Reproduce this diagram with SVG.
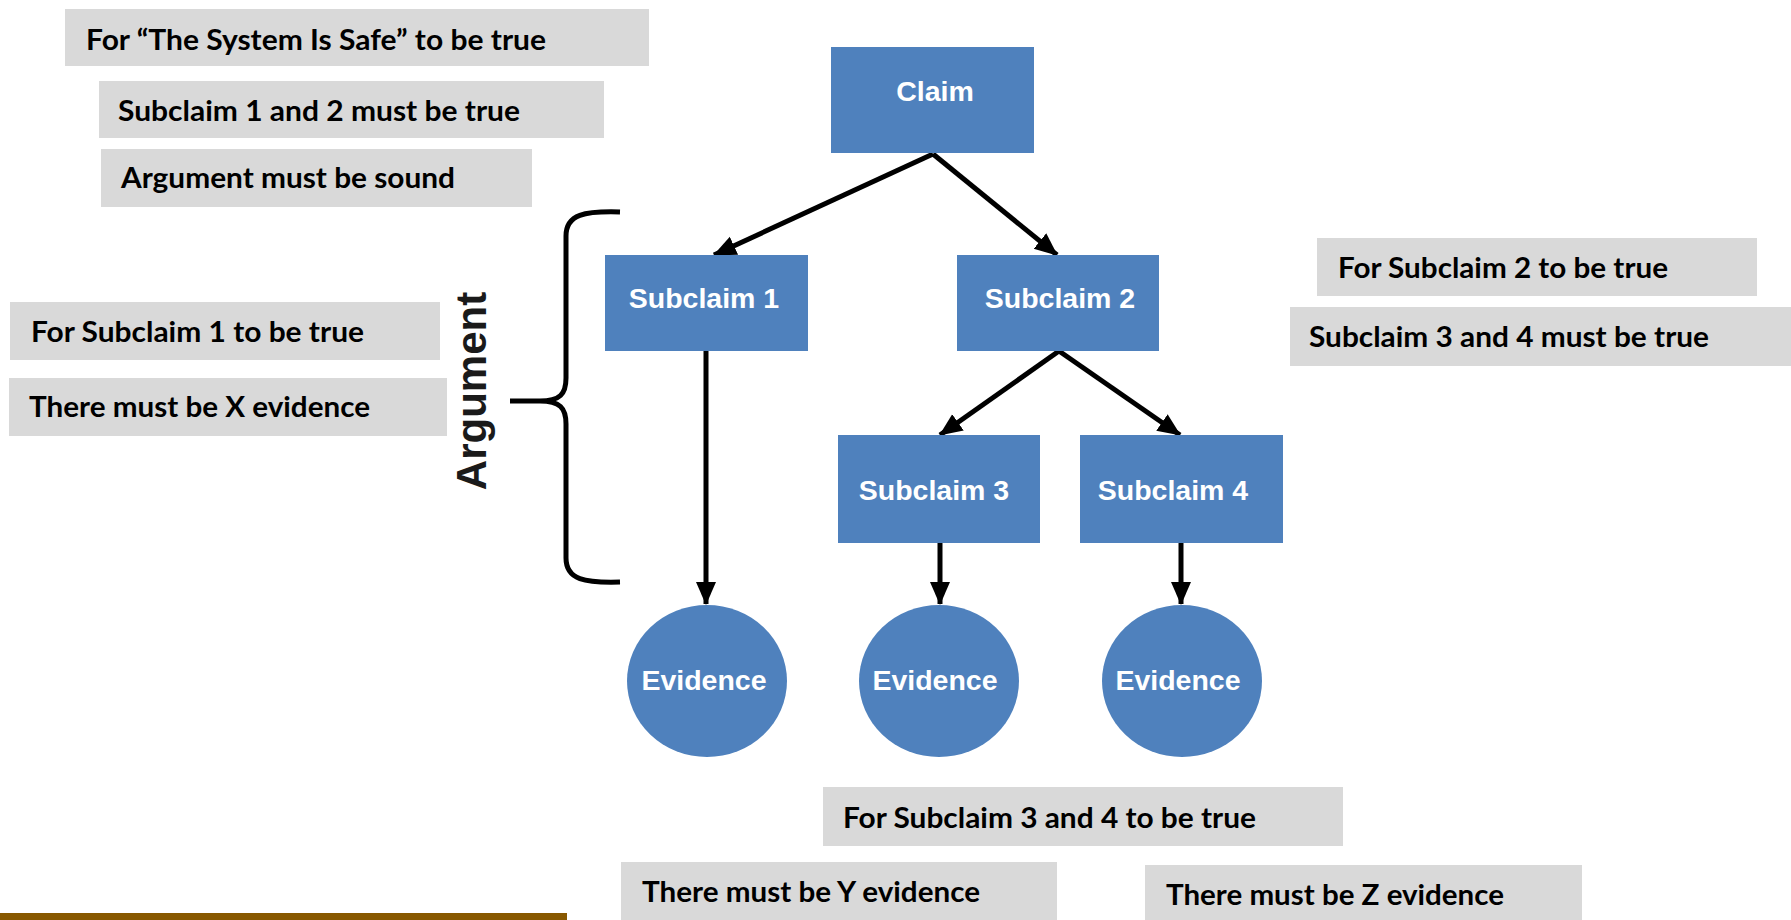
<svg xmlns="http://www.w3.org/2000/svg" width="1791" height="920" viewBox="0 0 1791 920">
  <style>
    .note rect { fill: #D9D9D9; }
    .note text { font-family: Lato, "Open Sans", "Liberation Sans", sans-serif; font-weight: bold; font-size: 28px; fill: #000; }
    .node rect, .node ellipse { fill: #4F81BD; }
    .node text { font-family: "Liberation Sans", Arial, sans-serif; font-weight: bold; font-size: 28.5px; fill: #FFFFFF; text-anchor: middle; }
    .conn { stroke: #000; stroke-width: 5; fill: none; }
    .label { font-family: "Liberation Sans", Arial, sans-serif; font-weight: bold; font-size: 42px; fill: #1A1A1A; text-anchor: middle; }
  </style>
  <defs>
    <marker id="arrow" markerUnits="userSpaceOnUse" markerWidth="24" markerHeight="22" viewBox="0 0 24 22" refX="22" refY="11" orient="auto">
      <path d="M0,1 L23,11 L0,21 Z" fill="#000"/>
    </marker>
  </defs>

  <rect width="1791" height="920" fill="#FFFFFF"/>

  <!-- Notes -->
  <g id="note-system-safe" class="note">
    <rect x="65" y="9" width="584" height="57"/>
    <text x="86" y="50" textLength="460" lengthAdjust="spacingAndGlyphs">For “The System Is Safe” to be true</text>
  </g>
  <g id="note-sub12" class="note">
    <rect x="99" y="81" width="505" height="57"/>
    <text x="118" y="121" textLength="402" lengthAdjust="spacingAndGlyphs">Subclaim 1 and 2 must be true</text>
  </g>
  <g id="note-argument" class="note">
    <rect x="101" y="149" width="431" height="58"/>
    <text x="121" y="188" textLength="334" lengthAdjust="spacingAndGlyphs">Argument must be sound</text>
  </g>
  <g id="note-for-sub1" class="note">
    <rect x="10" y="302" width="430" height="58"/>
    <text x="31" y="342" textLength="333" lengthAdjust="spacingAndGlyphs">For Subclaim 1 to be true</text>
  </g>
  <g id="note-x-evidence" class="note">
    <rect x="9" y="378" width="438" height="58"/>
    <text x="29" y="417" textLength="341" lengthAdjust="spacingAndGlyphs">There must be X evidence</text>
  </g>
  <g id="note-for-sub2" class="note">
    <rect x="1317" y="238" width="440" height="58"/>
    <text x="1338" y="278" textLength="330" lengthAdjust="spacingAndGlyphs">For Subclaim 2 to be true</text>
  </g>
  <g id="note-sub34" class="note">
    <rect x="1290" y="307" width="501" height="59"/>
    <text x="1309" y="347" textLength="400" lengthAdjust="spacingAndGlyphs">Subclaim 3 and 4 must be true</text>
  </g>
  <g id="note-for-sub34" class="note">
    <rect x="823" y="787" width="520" height="59"/>
    <text x="843" y="828" textLength="413" lengthAdjust="spacingAndGlyphs">For Subclaim 3 and 4 to be true</text>
  </g>
  <g id="note-y-evidence" class="note">
    <rect x="621" y="862" width="436" height="58"/>
    <text x="642" y="902" textLength="338" lengthAdjust="spacingAndGlyphs">There must be Y evidence</text>
  </g>
  <g id="note-z-evidence" class="note">
    <rect x="1145" y="865" width="437" height="55"/>
    <text x="1166" y="905" textLength="338" lengthAdjust="spacingAndGlyphs">There must be Z evidence</text>
  </g>

  <!-- Argument bracket and label -->
  <g id="argument-bracket">
    <path class="conn" d="M620,212 C585,211 566,214 566,236 L566,378 C566,394 560,401 540,401 L510,401 M540,401 C560,401 566,408 566,424 L566,558 C566,580 585,583 620,582"/>
    <text class="label" transform="translate(486,391) rotate(-90)">Argument</text>
  </g>

  <!-- Connectors -->
  <g id="connectors">
    <line class="conn" x1="933" y1="154" x2="714" y2="255" marker-end="url(#arrow)"/>
    <line class="conn" x1="933" y1="154" x2="1057" y2="255" marker-end="url(#arrow)"/>
    <line class="conn" x1="706" y1="351" x2="706" y2="604" marker-end="url(#arrow)"/>
    <line class="conn" x1="1059" y1="351" x2="940" y2="435" marker-end="url(#arrow)"/>
    <line class="conn" x1="1059" y1="351" x2="1180" y2="435" marker-end="url(#arrow)"/>
    <line class="conn" x1="940" y1="543" x2="940" y2="604" marker-end="url(#arrow)"/>
    <line class="conn" x1="1181" y1="543" x2="1181" y2="604" marker-end="url(#arrow)"/>
  </g>

  <!-- Nodes -->
  <g id="claim" class="node">
    <rect x="831" y="47" width="203" height="106"/>
    <text x="935" y="101">Claim</text>
  </g>
  <g id="subclaim1" class="node">
    <rect x="605" y="255" width="203" height="96"/>
    <text x="704" y="308">Subclaim 1</text>
  </g>
  <g id="subclaim2" class="node">
    <rect x="957" y="255" width="202" height="96"/>
    <text x="1060" y="308">Subclaim 2</text>
  </g>
  <g id="subclaim3" class="node">
    <rect x="838" y="435" width="202" height="108"/>
    <text x="934" y="500">Subclaim 3</text>
  </g>
  <g id="subclaim4" class="node">
    <rect x="1080" y="435" width="203" height="108"/>
    <text x="1173" y="500">Subclaim 4</text>
  </g>
  <g id="evidence1" class="node">
    <ellipse cx="707" cy="681" rx="80" ry="76"/>
    <text x="704" y="690">Evidence</text>
  </g>
  <g id="evidence2" class="node">
    <ellipse cx="939" cy="681" rx="80" ry="76"/>
    <text x="935" y="690">Evidence</text>
  </g>
  <g id="evidence3" class="node">
    <ellipse cx="1182" cy="681" rx="80" ry="76"/>
    <text x="1178" y="690">Evidence</text>
  </g>

  <!-- Footer bar -->
  <rect id="footer-bar" x="0" y="913" width="567" height="7" fill="#885800"/>
</svg>
